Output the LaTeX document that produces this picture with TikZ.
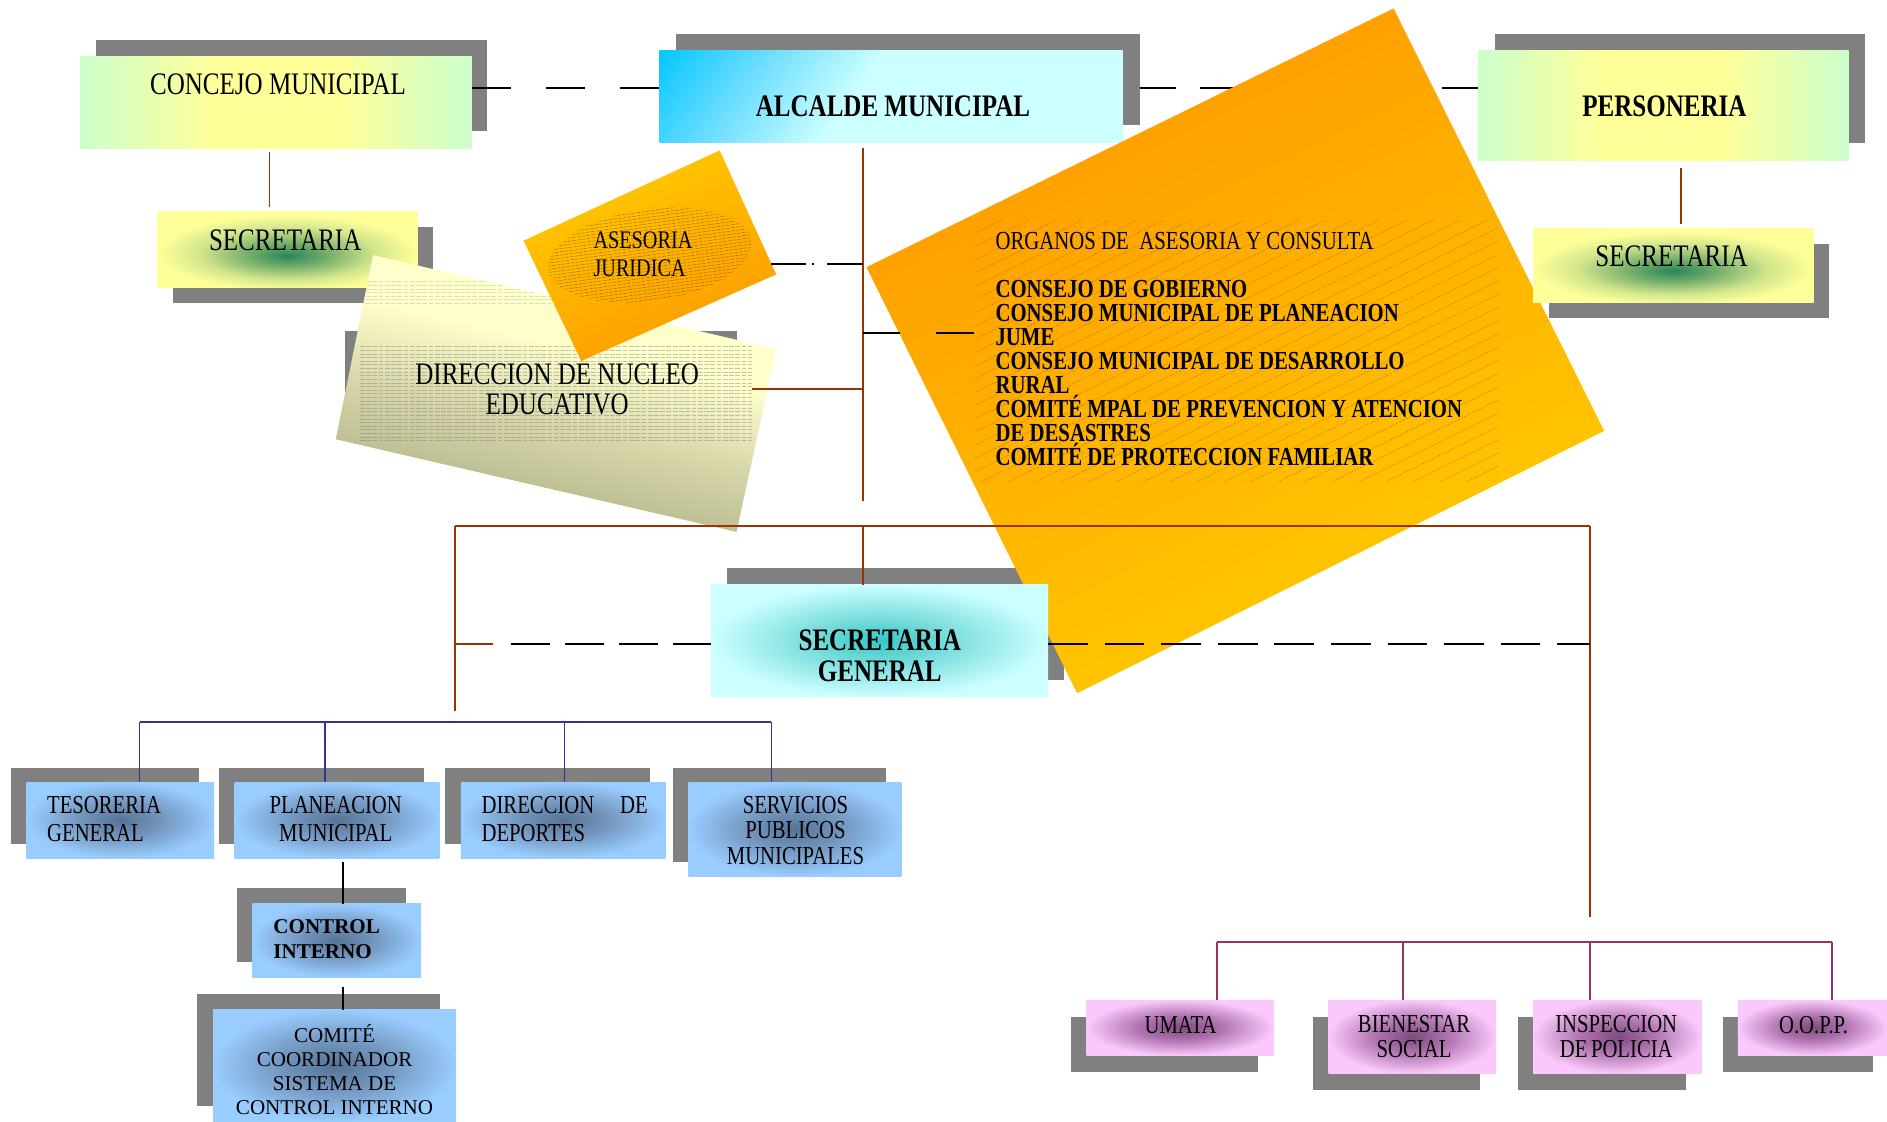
\documentclass[tikz,border=0pt]{standalone}
\usepackage{fontspec}
\setmainfont{Liberation Serif}[FakeStretch=0.8]
\newfontfamily\normw{Liberation Serif}
\usetikzlibrary{calc}

\definecolor{shd}{RGB}{128,128,128}
\definecolor{lgreen}{RGB}{204,255,204}
\definecolor{lyel}{RGB}{255,255,153}
\definecolor{cyl}{RGB}{204,255,255}
\definecolor{cym}{RGB}{110,222,255}
\definecolor{cyd}{RGB}{10,200,255}
\definecolor{sgr}{RGB}{40,135,90}
\definecolor{sgr2}{RGB}{110,170,105}
\definecolor{sgr3}{RGB}{210,230,140}
\definecolor{scy}{RGB}{55,198,198}
\definecolor{scy2}{RGB}{125,222,222}
\definecolor{bld}{RGB}{85,115,150}
\definecolor{blm}{RGB}{115,150,190}
\definecolor{bll}{RGB}{153,204,255}
\definecolor{pkd}{RGB}{125,75,125}
\definecolor{pkm}{RGB}{175,115,175}
\definecolor{pkl}{RGB}{250,200,250}
\definecolor{or1}{RGB}{255,153,0}
\definecolor{or2}{RGB}{255,204,0}
\definecolor{dny}{RGB}{255,255,204}
\definecolor{dnk}{RGB}{170,170,130}
\definecolor{dnm}{RGB}{215,215,170}
\definecolor{brownc}{RGB}{153,51,0}
\definecolor{bluec}{RGB}{51,51,153}
\definecolor{pinkc}{RGB}{153,51,102}

\pgfdeclarehorizontalshading{gyg}{100bp}{color(0bp)=(lgreen); color(25bp)=(lgreen); color(42bp)=(lyel); color(58bp)=(lyel); color(75bp)=(lgreen); color(100bp)=(lgreen)}
\pgfdeclareverticalshading{alcsh}{100bp}{color(0bp)=(cyl); color(55bp)=(cyl); color(70bp)=(cym); color(84bp)=(cyd); color(100bp)=(cyd)}
\pgfdeclareradialshading{secsh}{\pgfpoint{0bp}{-4bp}}{color(0bp)=(sgr); color(7bp)=(sgr2); color(17bp)=(sgr3); color(25bp)=(lyel); color(50bp)=(lyel)}
\pgfdeclareradialshading{sgsh}{\pgfpoint{0bp}{0bp}}{color(0bp)=(scy); color(11bp)=(scy2); color(25bp)=(cyl); color(50bp)=(cyl)}
\pgfdeclareradialshading{blsh}{\pgfpoint{0bp}{0bp}}{color(0bp)=(bld); color(11bp)=(blm); color(25bp)=(bll); color(50bp)=(bll)}
\pgfdeclareradialshading{pksh}{\pgfpoint{0bp}{0bp}}{color(0bp)=(pkd); color(11bp)=(pkm); color(25bp)=(pkl); color(50bp)=(pkl)}
\pgfdeclareverticalshading{dnsh}{100bp}{color(0bp)=(dnk); color(25bp)=(dnk); color(45bp)=(dnm); color(58bp)=(dny); color(100bp)=(dny)}

% #1 name, #2 x1, #3 y1, #4 x2, #5 y2, #6 fill style, #7 shadow dx, #8 shadow dy
\newcommand\mkbox[8]{%
  \fill[shd] ({#2+#7},{#3+#8}) rectangle ({#4+#7},{#5+#8});
  \node[box,#6,minimum width={(#4-#2)*1pt},minimum height={(#5-#3)*1pt}] (#1) at ({(#2+#4)/2},{(#3+#5)/2}) {};
}

\begin{document}
\begin{tikzpicture}[x=1pt,y=-1pt,
  box/.style={rectangle,inner sep=0pt,outer sep=0pt,draw=none},
  T26/.style={inner sep=0pt,align=center,font=\fontsize{26}{25}\selectfont},
  T26b/.style={inner sep=0pt,align=center,font=\fontsize{26}{26}\selectfont\bfseries},
  T21/.style={inner sep=0pt,align=center,font=\fontsize{21.5}{23}\selectfont},
  T21s/.style={inner sep=0pt,align=center,font=\fontsize{21.5}{21}\selectfont},
  Tsm/.style={inner sep=0pt,align=center,font=\normw\fontsize{17.5}{20}\selectfont},
  orgtxt/.style={inner sep=0pt,align=left,font=\fontsize{21.6}{20}\selectfont},
  brn/.style={draw=brownc,line width=1.5pt},
  blu/.style={draw=bluec,line width=1.4pt},
  pnk/.style={draw=pinkc,line width=1.6pt},
  blk/.style={draw=black,line width=1.8pt},
  orhatch/.style={draw=black!30!or1,line width=0.4pt,dash pattern=on 2pt off 1pt,opacity=0.7},
  ajhatch/.style={draw=black!65!or1,line width=0.35pt,dash pattern=on 3pt off 1pt,opacity=0.6},
  dnhatch/.style={draw=black!50,line width=0.3pt,dash pattern=on 4pt off 1.2pt,opacity=0.45}]
\useasboundingbox (0,0) rectangle (1568,932);

% ---------- top row ----------
\mkbox{concejo}{67}{47}{392}{123}{shade,shading=gyg}{13}{-14}
\node[T26] (concejo-t) at (231,70) {CONCEJO MUNICIPAL};
\mkbox{alcalde}{548}{42}{933}{118}{shade,shading=alcsh,shading angle=54}{14}{-14}
\node[T26b] (alcalde-t) at (742,88) {ALCALDE MUNICIPAL};
\mkbox{personeria}{1228}{42}{1536}{133}{shade,shading=gyg}{14}{-14}
\node[T26b] (personeria-t) at (1383,88) {PERSONERIA};
\mkbox{sec1}{131}{176}{347}{239}{shade,shading=secsh}{13}{13}
\node[T26] (sec1-t) at (237,200) {SECRETARIA};

\coordinate (cjy) at (0,73);
\draw[blk,dash pattern=on 33pt off 28.5pt] (concejo.east |- cjy) -- (alcalde.west |- cjy);
\draw[blk,dash pattern=on 30pt off 20.2pt,dash phase=36.2pt] (alcalde.east |- cjy) -- (personeria.west |- cjy);

\draw[brn,shorten <=3pt,shorten >=4pt] ([xshift=-5.5pt]concejo.south) -- ([xshift=-15pt]sec1.north);

\coordinate (vA) at (717,416);
\draw[brn,shorten <=5pt] ([xshift=-23.5pt]alcalde.south) -- (vA);

% ---------- Direccion de nucleo educativo ----------
\fill[shd] (287,275) rectangle (612,365);
\shade[shading=dnsh,shading angle=-13] (310,212) -- (645,290) -- (612,442) -- (279,365) -- cycle;
\begin{scope}
  \clip (310,212) -- (645,290) -- (612,442) -- (279,365) -- cycle;
  \foreach \k in {0,...,26} {\draw[dnhatch] (299,{288+3*\k}) -- (625,{288+3*\k});}
  \foreach \k in {0,...,6} {\draw[dnhatch,opacity=0.25] (299,{234+3*\k}) -- (625,{234+3*\k});}
\end{scope}
\node[T26] (dn-t) at (463,323.5) {DIRECCION DE NUCLEO\\EDUCATIVO};

% ---------- Asesoria juridica ----------
\shade[top color=or2,bottom color=or1,shading angle=24] (435,200) -- (598,125) -- (645,228) -- (483,300) -- cycle;
\begin{scope}[shift={(540,212)},rotate=8]
  \clip (0,0) ellipse [x radius=85,y radius=38];
  \foreach \k in {-15,...,15} {\draw[ajhatch] (-90,{2.6*\k}) -- (90,{2.6*\k});}
\end{scope}
\node[T21,font=\fontsize{21}{23}\selectfont,align=left,anchor=west] (aj-t) at (493,211.5) {ASESORIA\\JURIDICA};

% ---------- Organos de asesoria ----------
\fill[shd] (604,472) rectangle (884,565);
\shade[top color=or1,bottom color=or2,shading angle=26] (720,222) -- (1158,7) -- (1333,358) -- (895,576) -- cycle;
\begin{scope}
  \clip (720,222) -- (1158,7) -- (1333,358) -- (895,576) -- cycle;
  \clip (810,183) rectangle (1245,400);
  \foreach \k in {0,...,40} {\draw[orhatch] (810,{183+11*\k}) -- ++(435,-213.6);}
\end{scope}
\node[orgtxt,anchor=west] (org-t) at (827,290) {ORGANOS DE\ \ ASESORIA Y CONSULTA\\[20pt]
\textbf{CONSEJO DE GOBIERNO}\\
\textbf{CONSEJO MUNICIPAL DE PLANEACION}\\
\textbf{JUME}\\
\textbf{CONSEJO MUNICIPAL DE DESARROLLO}\\
\textbf{RURAL}\\
\textbf{COMITÉ MPAL DE PREVENCION Y ATENCION}\\
\textbf{DE DESASTRES}\\
\textbf{COMITÉ DE PROTECCION FAMILIAR}};

% ---------- connectors of the alcalde trunk ----------
\coordinate (aj) at (641,219);   \coordinate (ajT) at (717,219);
\coordinate (orgT) at (717,277); \coordinate (org) at (810,277);
\coordinate (dn) at (625,323);   \coordinate (dnT) at (717,323);
\draw[blk,line width=1.6pt,dash pattern=on 29pt off 4.5pt on 2pt off 10.5pt on 40pt off 1pt] (aj) -- (ajT);
\draw[blk,line width=1.6pt,dash pattern=on 31pt off 30pt] (orgT) -- (org);
\draw[brn] (dn) -- (dnT);

% ---------- bus ----------
\coordinate (busL) at (378,437); \coordinate (busM) at (717,437); \coordinate (busR) at (1321,437);
\coordinate (lowL) at (378,591); \coordinate (lowR) at (1321,762);
\coordinate (jL) at (378,535);   \coordinate (jL2) at (410,535); \coordinate (jLd) at (425,535);
\coordinate (jR) at (1321,535);
\draw[brn] (busL) -- (busR);
\draw[brn] (busL) -- (lowL);
\draw[brn] (busR) -- (lowR);
\draw[brn] (jL) -- (jL2);

% ---------- secretaria general ----------
\node[box,shade,shading=sgsh,minimum width=280pt,minimum height=93pt] (secgen) at (731,532.5) {};
\draw[brn] (busM) -- (busM |- secgen.north);
\draw[blk,dash pattern=on 32pt off 12.7pt] (jLd) -- (jLd -| secgen.west);
\draw[blk,dash pattern=on 33pt off 14pt] (jR -| secgen.east) -- (jR);
\node[T26b] (secgen-t) at (731,545) {SECRETARIA\\GENERAL};

% ---------- secretaria (personeria) ----------
\mkbox{sec2}{1274}{190}{1507}{251}{shade,shading=secsh}{13}{13}
\node[T26] (sec2-t) at (1389,213) {SECRETARIA};
\draw[brn,shorten <=7pt,shorten >=4pt] ([xshift=15pt]personeria.south) -- ([xshift=6.5pt]sec2.north);

% ---------- blue branch ----------
\mkbox{teso}{22}{650}{178}{713}{shade,shading=blsh}{-13}{-12}
\mkbox{plan}{195}{650}{365}{713}{shade,shading=blsh}{-13}{-12}
\mkbox{dep}{383}{650}{553}{713}{shade,shading=blsh}{-13}{-12}
\mkbox{serv}{572}{650}{749}{728}{shade,shading=blsh}{-13}{-12}
\mkbox{ctrl}{210}{751}{350}{812}{shade,shading=blsh}{-13}{-13}
\mkbox{com}{177}{839}{379}{932}{shade,shading=blsh}{-13}{-13}
\coordinate (b1) at (116,600); \coordinate (b2) at (270,600);
\coordinate (b3) at (469,600); \coordinate (b4) at (641,600);
\draw[blu] (b1) -- (b4);
\draw[blu] (b1) -- (b1 |- teso.north);
\draw[blu] (b2) -- (b2 |- plan.north);
\draw[blu] (b3) -- (b3 |- dep.north);
\draw[blu] (b4) -- (b4 |- serv.north);
\draw[draw=black,line width=1.5pt,shorten <=3pt] ([xshift=5pt]plan.south) -- ([xshift=5pt]ctrl.north);
\draw[draw=black,line width=1.5pt,shorten <=8pt] ([xshift=5pt]ctrl.south) -- ([xshift=7pt]com.north);
\node[T21,align=left,anchor=west] (teso-t) at (39,680.5) {TESORERIA\\GENERAL};
\node[T21] (plan-t) at (279,680.5) {PLANEACION\\MUNICIPAL};
\node[T21,align=left,anchor=west] (dep-t) at (400,680.5) {\makebox[138pt][l]{DIRECCION\hfill DE}\\DEPORTES};
\node[T21s] (serv-t) at (661,690) {SERVICIOS\\PUBLICOS\\MUNICIPALES};
\node[Tsm,font=\normw\bfseries\fontsize{17.5}{21}\selectfont,align=left,anchor=west] (ctrl-t) at (227,780.5) {CONTROL\\INTERNO};
\node[Tsm] (com-t) at (278,889) {COMITÉ\\COORDINADOR\\SISTEMA DE\\CONTROL INTERNO};

% ---------- pink branch ----------
\mkbox{umata}{903}{831}{1058}{877}{shade,shading=pksh}{-13}{14}
\mkbox{bien}{1104}{831}{1243}{892}{shade,shading=pksh}{-13}{14}
\mkbox{insp}{1274}{831}{1414}{892}{shade,shading=pksh}{-13}{14}
\mkbox{oopp}{1444}{831}{1568}{877}{shade,shading=pksh}{-12}{14}
\coordinate (p1) at (1011,783); \coordinate (p2) at (1166,783);
\coordinate (p3) at (1321,783); \coordinate (p4) at (1522,783);
\draw[pnk] (p1) -- (p4);
\draw[pnk] (p1) -- (p1 |- umata.north);
\draw[pnk] (p2) -- (p2 |- bien.north);
\draw[pnk] (p3) -- (p3 |- insp.north);
\draw[pnk] (p4) -- (p4 |- oopp.north);
\node[T21] (umata-t) at (981,852) {UMATA};
\node[T21s] (bien-t) at (1175,861.5) {BIENESTAR\\SOCIAL};
\node[T21s] (insp-t) at (1343,861.5) {INSPECCION\\DE\kern3pt POLICIA};
\node[T21] (oopp-t) at (1507,852) {O.O.P.P.};
\end{tikzpicture}
\end{document}
